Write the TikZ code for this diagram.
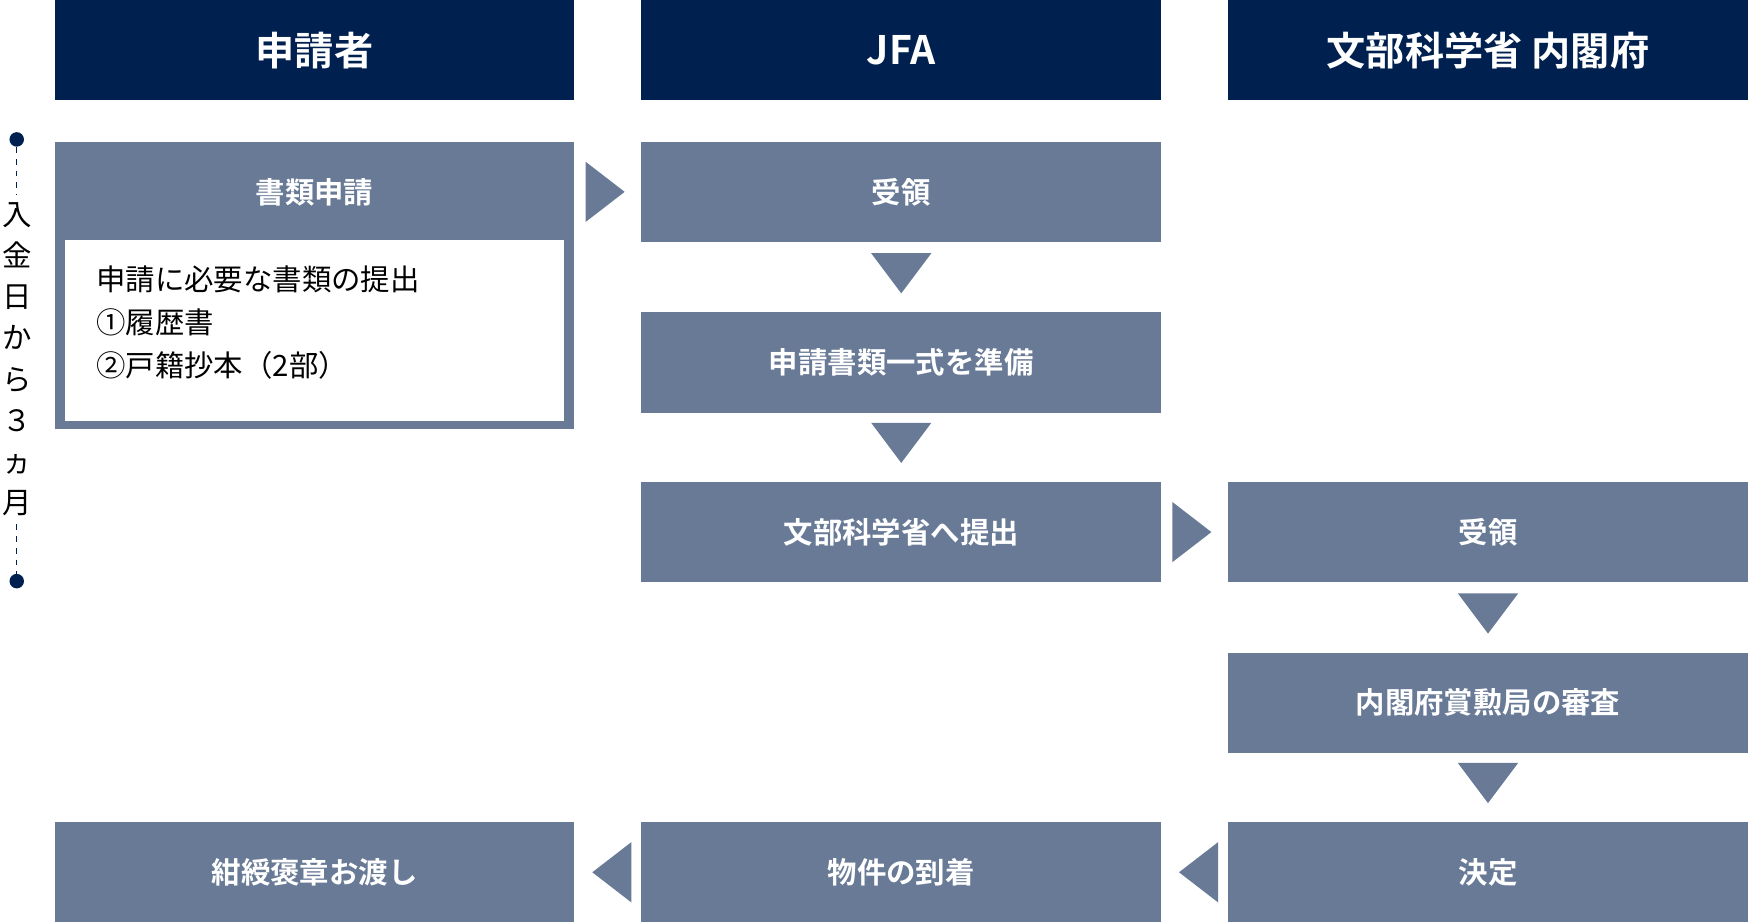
\documentclass[tikz,border=0pt]{standalone}
\usepackage{fontspec}
\setmainfont{Noto Sans CJK JP}
\newfontfamily\cjkbold{Noto Sans CJK JP Bold}
\usetikzlibrary{positioning}
\definecolor{navy}{HTML}{00204F}
\definecolor{slate}{HTML}{687A96}
\tikzset{
  head/.style={fill=navy, text=white, minimum width=9.32cm, minimum height=1.8cm, font=\cjkbold\fontsize{20}{24}\selectfont, inner sep=0},
  stage/.style={fill=slate, text=white, minimum width=9.32cm, minimum height=1.8cm, font=\cjkbold\fontsize{15}{18}\selectfont, inner sep=0},
  tri/.style={fill=slate}
}
\begin{document}
\begin{tikzpicture}[x=0.02cm, y=-0.02cm]
\useasboundingbox (0,0) rectangle (1568,828);
% headers
\node[head] (h1) at (282,45) {申請者};
\node[head] (h2) at (808,45) {JFA};
\node[head] (h3) at (1334,45) {文部科学省 内閣府};
% applicant
\fill[slate] (49,127) rectangle (515,385);
\node[stage, fill=none] (a1) at (282,172) {書類申請};
\fill[white] (58,215) rectangle (506,377);
\node[anchor=north west, align=left, font=\fontsize{15}{22}\selectfont, inner sep=0] (a2) at (86,238) {申請に必要な書類の提出\\①履歴書\\②戸籍抄本（2部）};
\node[stage] (a3) at (282,782) {紺綬褒章お渡し};
% JFA
\node[stage] (j1) at (808,172) {受領};
\node[stage] (j2) at (808,325) {申請書類一式を準備};
\node[stage] (j3) at (808,477) {文部科学省へ提出};
\node[stage] (j4) at (808,782) {物件の到着};
% ministry
\node[stage] (m1) at (1334,477) {受領};
\node[stage] (m2) at (1334,630) {内閣府賞勲局の審査};
\node[stage] (m3) at (1334,782) {決定};
% arrows
\foreach \x/\y in {525/172, 1051/477}
  \fill[tri] (\x,\y-27) -- (\x+35,\y) -- (\x,\y+27) -- cycle;
\foreach \x/\y in {566/782, 1092/782}
  \fill[tri] (\x,\y-27) -- (\x-35,\y) -- (\x,\y+27) -- cycle;
\foreach \x/\y in {808/227, 808/379, 1334/532, 1334/684}
  \fill[tri] (\x-27,\y) -- (\x+27,\y) -- (\x,\y+36) -- cycle;
% timeline
\node[circle, fill=navy, inner sep=0, minimum size=0.26cm] (t1) at (15,125) {};
\node[circle, fill=navy, inner sep=0, minimum size=0.26cm] (t2) at (15,521) {};
\node[align=center, font=\fontsize{15}{21}\selectfont, inner sep=0] (t) at (15,322) {入\\金\\日\\か\\ら\\３\\ヵ\\月};
\draw[navy, dashed, line width=0.6pt] (t1) -- (15,175);
\draw[navy, dashed, line width=0.6pt] (15,470) -- (t2);
\end{tikzpicture}
\end{document}
